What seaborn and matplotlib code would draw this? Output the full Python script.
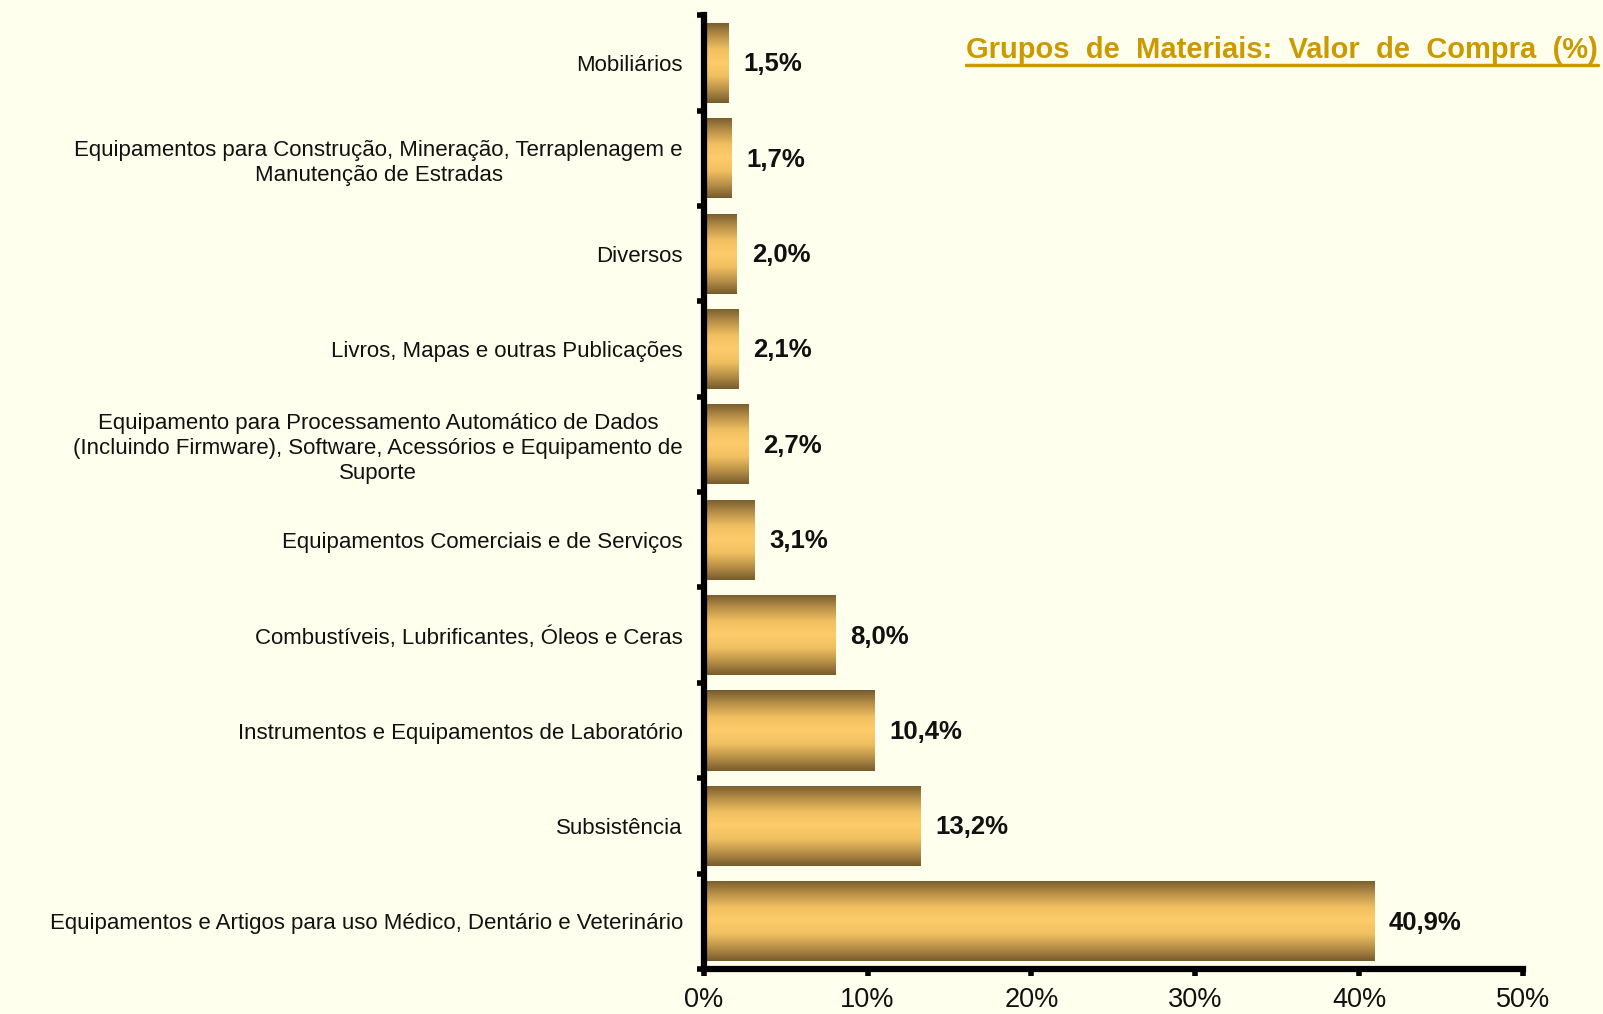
import matplotlib.pyplot as plt
import seaborn as sns
import pandas as pd
import numpy as np
from matplotlib.colors import LinearSegmentedColormap
from matplotlib.lines import Line2D

categorias = [
    "Mobiliários",
    "Equipamentos para Construção, Mineração, Terraplenagem e\nManutenção de Estradas",
    "Diversos",
    "Livros, Mapas e outras Publicações",
    "Equipamento para Processamento Automático de Dados\n(Incluindo Firmware), Software, Acessórios e Equipamento de\nSuporte",
    "Equipamentos Comerciais e de Serviços",
    "Combustíveis, Lubrificantes, Óleos e Ceras",
    "Instrumentos e Equipamentos de Laboratório",
    "Subsistência",
    "Equipamentos e Artigos para uso Médico, Dentário e Veterinário",
]
valores = [1.5, 1.7, 2.0, 2.1, 2.7, 3.1, 8.0, 10.4, 13.2, 40.9]
rotulos = ["1,5%", "1,7%", "2,0%", "2,1%", "2,7%", "3,1%", "8,0%", "10,4%", "13,2%", "40,9%"]
xticks = [0, 10, 20, 30, 40, 50]
xticklabels = ["0%", "10%", "20%", "30%", "40%", "50%"]

df = pd.DataFrame({"grupo": categorias, "valor": valores})

fundo = "#FFFFEE"
sns.set_theme(style="white")
plt.rcParams["font.family"] = ["Liberation Sans", "DejaVu Sans"]

fig = plt.figure(figsize=(16.03, 10.14), dpi=100, facecolor=fundo)
ax = fig.add_axes([0.439, 0.0444, 0.511, 0.9406])
ax.set_facecolor(fundo)

sns.barplot(data=df, x="valor", y="grupo", orient="h", width=0.84,
            color="#d9a94f", edgecolor="none", ax=ax)

# gradiente dourado recortado em cada barra
cmap = LinearSegmentedColormap.from_list(
    "ouro", ["#775b2c", "#b89048", "#f0c060", "#fdcb6a", "#f0c060", "#b89048", "#775b2c"])
grad = np.linspace(0, 1, 256).reshape(-1, 1)
for p in ax.patches:
    x0, y0 = p.get_x(), p.get_y()
    w, h = p.get_width(), p.get_height()
    im = ax.imshow(grad, cmap=cmap, aspect="auto", extent=[x0, x0 + w, y0 + h, y0],
                   zorder=2, interpolation="bicubic")
    im.set_clip_path(p)
    p.set_facecolor("none")

ax.set_xlim(0, 50)
ax.set_ylim(len(categorias) - 0.5, -0.5)
ax.set_xticks(xticks)
ax.set_xticklabels(xticklabels, fontsize=19.5, color="#111111")
ax.set_yticks(range(len(categorias)))
ax.set_yticklabels(categorias, fontsize=16, multialignment="center", color="#111111",
                   linespacing=1.25)
ax.set_yticks(np.arange(-0.5, len(categorias), 1), minor=True)
ax.tick_params(axis="y", which="major", length=0, pad=15)
ax.tick_params(axis="y", which="minor", length=5, width=4, color="black", left=True)
ax.tick_params(axis="x", which="major", length=5, width=4, color="black", bottom=True, pad=8)
ax.set_xlabel("")
ax.set_ylabel("")

for s in ["top", "right"]:
    ax.spines[s].set_visible(False)
for s in ["left", "bottom"]:
    ax.spines[s].set_linewidth(4.5)
    ax.spines[s].set_color("black")

for i, (v, r) in enumerate(zip(valores, rotulos)):
    ax.annotate(r, xy=(v, i), xytext=(11, -1), textcoords="offset points",
                ha="left", va="center", fontsize=18.5, fontweight="bold", color="#111111")

t = fig.text(0.997, 0.951, "Grupos  de  Materiais:  Valor  de  Compra  (%)", ha="right", va="center",
             fontsize=21, fontweight="bold", color="#CC9900")
fig.canvas.draw()
bb = t.get_window_extent().transformed(fig.transFigure.inverted())
fig.add_artist(Line2D([bb.x0, bb.x1], [bb.y0 - 0.001, bb.y0 - 0.001],
                      transform=fig.transFigure, color="#CC9900", lw=2.5))

fig.savefig("out.png", dpi=100, facecolor=fundo)
